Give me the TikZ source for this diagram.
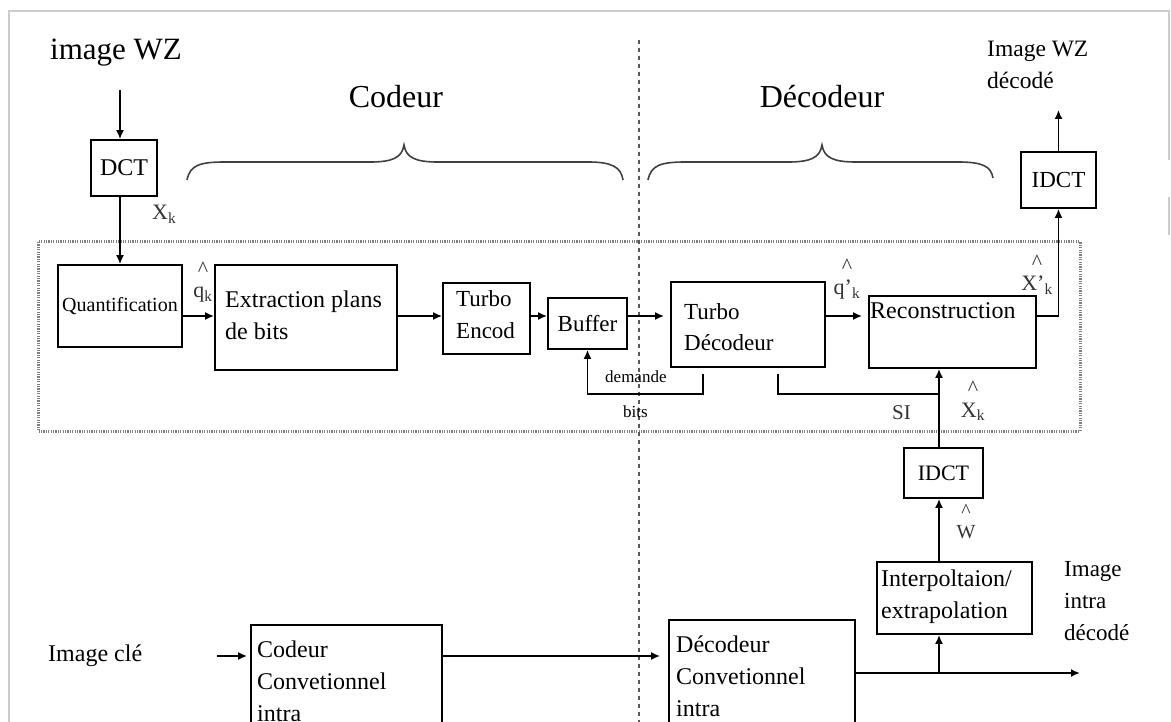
\documentclass[tikz,border=0pt]{standalone}
\usepackage{fontspec}
\setmainfont{Liberation Serif}
\usetikzlibrary{arrows.meta}
\newcommand\myfs[1]{\fontsize{#1}{32}\selectfont}
\begin{document}
\begin{tikzpicture}[x=1pt,y=-1pt,
  box/.style={draw=black, line width=1.8pt, inner sep=0pt},
  arr/.style={line width=1.7pt, -{Latex[length=9pt,width=8pt]}},
  wire/.style={line width=1.7pt},
  txt/.style={inner sep=0pt, anchor=base west, align=left, font=\myfs{24}},
  big/.style={inner sep=0pt, anchor=base, font=\myfs{32}},
  lbl/.style={inner sep=0pt, anchor=base west, font=\myfs{22}, text=black!80},
  hlbl/.style={inner sep=0pt, anchor=base, align=center, font=\myfs{22}, text=black!80},
  brace/.style={line width=1.6pt, draw=black!75}]
\useasboundingbox (0,0) rectangle (1171,722);
\clip (0,0) rectangle (1171,722);
% outer frame
\draw[black!20, line width=1.5pt] (9,722) -- (9,11) -- (1169,11) -- (1169,160);
\draw[black!20, line width=1.5pt] (1169,197) -- (1169,235);
% dotted region and separator
\draw[black!50, line width=3pt, dash pattern=on 1.2pt off 1.2pt] (38,242) rectangle (1080,431);
\draw[black!65, line width=1.6pt, dash pattern=on 4pt off 4pt] (639,40) -- (639,722);
% titles
\node[inner sep=0pt, anchor=base west, font=\myfs{31}] (wz) at (50,60) {image WZ};
\node[big] (cod) at (396,108) {Codeur};
\node[big] (dec) at (822,108) {Décodeur};
\node[txt, font=\myfs{23.5}] (wzdec) at (987,89) {Image WZ\\décodé};
% braces
\draw[brace] (187,180) .. controls (190,165) and (200,162) .. (225,162) -- (370,162)
  .. controls (392,162) and (402,158) .. (404,145) .. controls (406,158) and (416,162) .. (438,162)
  -- (588,162) .. controls (612,162) and (621,167) .. (623,180);
\draw[brace] (648,180) .. controls (651,165) and (661,162) .. (686,162) -- (788,162)
  .. controls (810,162) and (820,158) .. (822,145) .. controls (824,158) and (834,162) .. (856,162)
  -- (958,162) .. controls (982,162) and (991,166) .. (993,178);
% boxes
\node[box, minimum width=66pt, minimum height=56pt, font=\myfs{24}] (dct) at (124,168) {DCT};
\node[box, minimum width=124pt, minimum height=82pt, font=\myfs{20}] (quant) at (120,306) {Quantification};
\node[box, minimum width=182pt, minimum height=105pt] (extr) at (306,317.5) {};
\node[box, minimum width=87pt, minimum height=71pt] (tenc) at (486.5,318.5) {};
\node[box, minimum width=79pt, minimum height=51pt, font=\myfs{23}] (buf) at (587.5,323.5) {Buffer};
\node[box, minimum width=154pt, minimum height=85pt] (tdec) at (748,324.5) {};
\node[box, minimum width=167pt, minimum height=72pt] (recon) at (952.5,332) {};
\node[box, minimum width=75pt, minimum height=56pt, font=\myfs{23}] (idcta) at (1058.5,180) {IDCT};
\node[box, minimum width=79pt, minimum height=50pt, font=\myfs{22}] (idctb) at (943.5,473) {IDCT};
\node[box, minimum width=155pt, minimum height=72pt] (interp) at (954.5,598) {};
\node[box, minimum width=191pt, minimum height=165pt] (cenc) at (346.5,707.5) {};
\node[box, minimum width=186pt, minimum height=170pt] (cdec) at (762,705) {};
% box texts (base = baseline of the last line)
\node[txt] (textr) at (225,339) {Extraction plans\\de bits};
\node[txt, font=\myfs{23}] (ttenc) at (456,338) {Turbo\\Encod};
\node[txt, font=\myfs{23}] (ttdec) at (684,351) {Turbo\\Décodeur};
\node[txt] (trecon) at (870,319) {Reconstruction};
\node[txt] (tinterp) at (881,618) {Interpoltaion/\\extrapolation};
\node[txt] (tcenc) at (257,721) {Codeur\\Convetionnel\\intra};
\node[txt] (tcdec) at (676,716) {Décodeur\\Convetionnel\\intra};
\node[txt] (key) at (48,661) {Image clé};
\node[txt, font=\myfs{23}] (intraout) at (1064,640) {Image\\intra\\décodé};
% labels
\node[lbl] (lxk) at (152,220) {X\textsubscript{k}};
\node[hlbl] (lqk) at (203,298) {\textasciicircum\\[-11pt]q\textsubscript{k}};
\node[hlbl] (lqpk) at (847,295) {\textasciicircum\\[-11pt]q'\textsubscript{k}};
\node[hlbl] (lxpk) at (1037,291) {\textasciicircum\\[-11pt]X'\textsubscript{k}};
\node[hlbl] (lxhk) at (973,417) {\textasciicircum\\[-11pt]X\textsubscript{k}};
\node[hlbl, font=\myfs{20}] (lw) at (966,538) {\textasciicircum\\[-11pt]W};
\node[lbl, font=\myfs{21}] (lsi) at (892,419) {SI};
\node[inner sep=0pt, anchor=base west, font=\myfs{17}] (ldem) at (605,382) {demande};
\node[inner sep=0pt, anchor=base west, font=\myfs{17}] (lbits) at (623,417) {bits};
% connectors
\coordinate (wzin) at (120,90);
\draw[arr] (wzin) -- (wzin |- dct.north);
\draw[arr] (quant.north |- dct.south) -- (quant.north);
\coordinate (r0) at (0,316);
\draw[arr] (quant.east |- r0) -- (extr.west |- r0);
\draw[arr] (extr.east |- r0) -- (tenc.west |- r0);
\draw[arr] (tenc.east |- r0) -- (buf.west |- r0);
\draw[arr, shorten >=6pt] (buf.east |- r0) -- (tdec.west |- r0);
\draw[arr, shorten >=6pt] (tdec.east |- r0) -- (recon.west |- r0);
\draw[arr] (recon.east |- r0) -| (idcta.south);
\coordinate (wzout) at (1058.5,110);
\draw[arr] (idcta.north) -- (wzout);
\coordinate (dm) at (703,394);
\draw[arr, shorten <=6pt] (dm |- tdec.south) -- (dm) -| (buf.south);
\coordinate (si) at (778,394);
\coordinate (xj) at (939,394);
\draw[wire, shorten <=6pt] (si |- tdec.south) -- (si) -- (xj);
\draw[arr] (xj |- idctb.north) -- (xj |- recon.south);
\draw[arr] (xj |- interp.north) -- (xj |- idctb.south);
\coordinate (kj) at (939,673);
\coordinate (iout) at (1080,673);
\draw[arr] (cdec.east |- kj) -- (iout);
\draw[arr] (kj) -- (kj |- interp.south);
\coordinate (kin) at (217,656);
\draw[arr, shorten >=3pt] (kin) -- (kin -| cenc.west);
\draw[arr, shorten >=8pt] (cenc.east |- kin) -- (cdec.west |- kin);
\end{tikzpicture}
\end{document}
